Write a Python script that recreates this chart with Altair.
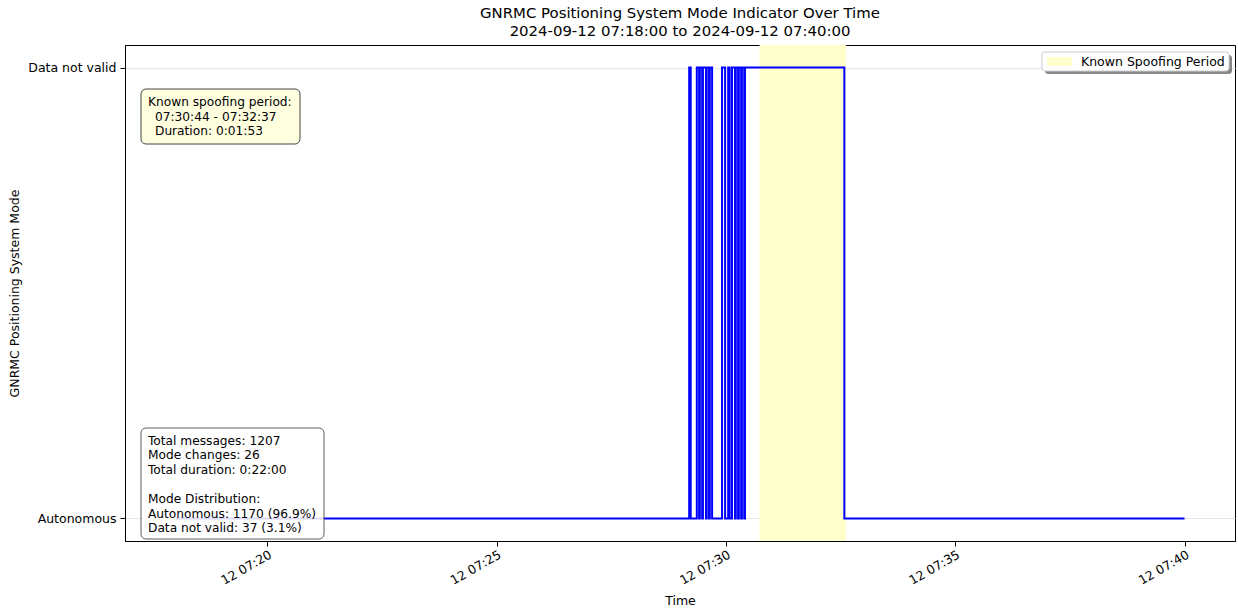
import altair as alt
import pandas as pd

# ---- data ----
change_times = [
    "2024-09-12T07:18:00", "2024-09-12T07:29:12", "2024-09-12T07:29:14",
    "2024-09-12T07:29:22", "2024-09-12T07:29:25", "2024-09-12T07:29:26",
    "2024-09-12T07:29:29", "2024-09-12T07:29:30", "2024-09-12T07:29:34",
    "2024-09-12T07:29:35", "2024-09-12T07:29:38", "2024-09-12T07:29:39",
    "2024-09-12T07:29:42", "2024-09-12T07:29:55", "2024-09-12T07:29:59",
    "2024-09-12T07:30:03", "2024-09-12T07:30:05", "2024-09-12T07:30:08",
    "2024-09-12T07:30:12", "2024-09-12T07:30:13", "2024-09-12T07:30:16",
    "2024-09-12T07:30:17", "2024-09-12T07:30:20", "2024-09-12T07:30:21",
    "2024-09-12T07:30:24", "2024-09-12T07:30:25", "2024-09-12T07:32:35",
    "2024-09-12T07:40:00",
]
modes = [
    "Autonomous", "Data not valid", "Autonomous",
    "Data not valid", "Autonomous", "Data not valid",
    "Autonomous", "Data not valid", "Autonomous",
    "Data not valid", "Autonomous", "Data not valid",
    "Autonomous", "Data not valid", "Autonomous",
    "Data not valid", "Autonomous", "Data not valid",
    "Autonomous", "Data not valid", "Autonomous",
    "Data not valid", "Autonomous", "Data not valid",
    "Autonomous", "Data not valid", "Autonomous",
    "Autonomous",
]
mode_levels = ["Autonomous", "Data not valid"]
spoof_start = ["2024-09-12T07:30:44"]
spoof_end = ["2024-09-12T07:32:37"]

title_lines = ["GNRMC Positioning System Mode Indicator Over Time",
               "2024-09-12 07:18:00 to 2024-09-12 07:40:00"]
spoof_text = ["Known spoofing period:", "07:30:44 - 07:32:37", "Duration: 0:01:53"]
spoof_indent = [0, 1, 1]
stats_text = ["Total messages: 1207", "Mode changes: 26", "Total duration: 0:22:00", "",
              "Mode Distribution:", "Autonomous: 1170 (96.9%)", "Data not valid: 37 (3.1%)"]
legend_label = "Known Spoofing Period"

# ---- build ----
FONT = "DejaVu Sans"
W, H = 1110, 496

df = pd.DataFrame({"time": change_times, "mode": modes})
df["level"] = df["mode"].map({m: i for i, m in enumerate(mode_levels)})
spoof_df = pd.DataFrame({"start": spoof_start, "end": spoof_end})

x_scale = alt.Scale(domain=[alt.DateTime(year=2024, month=9, date=12, hours=7, minutes=16, seconds=54),
                            alt.DateTime(year=2024, month=9, date=12, hours=7, minutes=41, seconds=6)])
x_vals = [alt.DateTime(year=2024, month=9, date=12, hours=7, minutes=m) for m in (20, 25, 30, 35, 40)]
y_scale = alt.Scale(domain=[-0.05, 1.05], nice=False, zero=False)

x_axis = alt.Axis(values=x_vals, format="%d %H:%M", labelAngle=-30, labelAlign="right",
                  labelBaseline="top", title="Time", grid=False, tickSize=5, labelPadding=2,
                  titlePadding=8)
y_axis = alt.Axis(values=[0, 1], labelExpr="datum.value == 1 ? 'Data not valid' : 'Autonomous'",
                  title="GNRMC Positioning System Mode", grid=True, gridColor="#e6e6e6",
                  tickSize=5, labelPadding=4, titlePadding=6)

shade = alt.Chart(spoof_df).mark_rect(color="#ffffcc").encode(
    x=alt.X("start:T", scale=x_scale, axis=x_axis),
    x2="end:T",
    y=alt.value(0), y2=alt.value(H),
)

line = alt.Chart(df).mark_line(interpolate="step-after", color="#0000ff", strokeWidth=2).encode(
    x=alt.X("time:T", scale=x_scale, axis=x_axis),
    y=alt.Y("level:Q", scale=y_scale, axis=y_axis),
)

one = pd.DataFrame({"k": [0]})


def text_line(s, x, y, size=12.2):
    return alt.Chart(one).mark_text(text=s, align="left", baseline="middle", font=FONT,
                                    fontSize=size, color="black").encode(
        x=alt.value(x), y=alt.value(y))


spoof_box = alt.Chart(one).mark_rect(fill="#ffffe0", stroke="#444444", strokeWidth=1,
                                     cornerRadius=5).encode(
    x=alt.value(16), x2=alt.value(175), y=alt.value(44), y2=alt.value(99))
spoof_layers = [text_line(s, 23 + 7 * ind, 57 + 14.5 * i)
                for i, (s, ind) in enumerate(zip(spoof_text, spoof_indent))]

stats_box = alt.Chart(one).mark_rect(fill="white", stroke="#444444", strokeWidth=1,
                                     cornerRadius=5, opacity=0.85).encode(
    x=alt.value(16), x2=alt.value(199), y=alt.value(383), y2=alt.value(494))
stats_layers = [text_line(s, 23, 395.5 + 14.6 * i) for i, s in enumerate(stats_text) if s]

leg_shadow = alt.Chart(one).mark_rect(fill="#888888", cornerRadius=3).encode(
    x=alt.value(920), x2=alt.value(1107), y=alt.value(10), y2=alt.value(29))
leg_box = alt.Chart(one).mark_rect(fill="white", stroke="#cccccc", strokeWidth=1,
                                   cornerRadius=3).encode(
    x=alt.value(917), x2=alt.value(1104), y=alt.value(7), y2=alt.value(26))
leg_swatch = alt.Chart(one).mark_rect(fill="#ffffcc").encode(
    x=alt.value(922), x2=alt.value(947), y=alt.value(12), y2=alt.value(21))
leg_txt = text_line(legend_label, 956, 17, size=12.5)

chart = alt.layer(
    shade, line, spoof_box, *spoof_layers, stats_box, *stats_layers,
    leg_shadow, leg_box, leg_swatch, leg_txt,
).properties(
    width=W, height=H,
    title=alt.TitleParams(text=title_lines, font=FONT, fontSize=14.9, fontWeight="normal",
                          anchor="middle", color="black", offset=6, lineHeight=18),
    autosize=alt.AutoSizeParams(type="none"),
    padding={"left": 125, "top": 45, "right": 3, "bottom": 67},
).configure_view(stroke="black", strokeWidth=1).configure_axis(
    labelFont=FONT, titleFont=FONT, labelFontSize=12.5, titleFontSize=12.5,
    labelColor="black", titleColor="black", titleFontWeight="normal",
    domainColor="black", tickColor="black",
)

chart.save("out.html", embed_options={"renderer": "svg", "actions": False})
